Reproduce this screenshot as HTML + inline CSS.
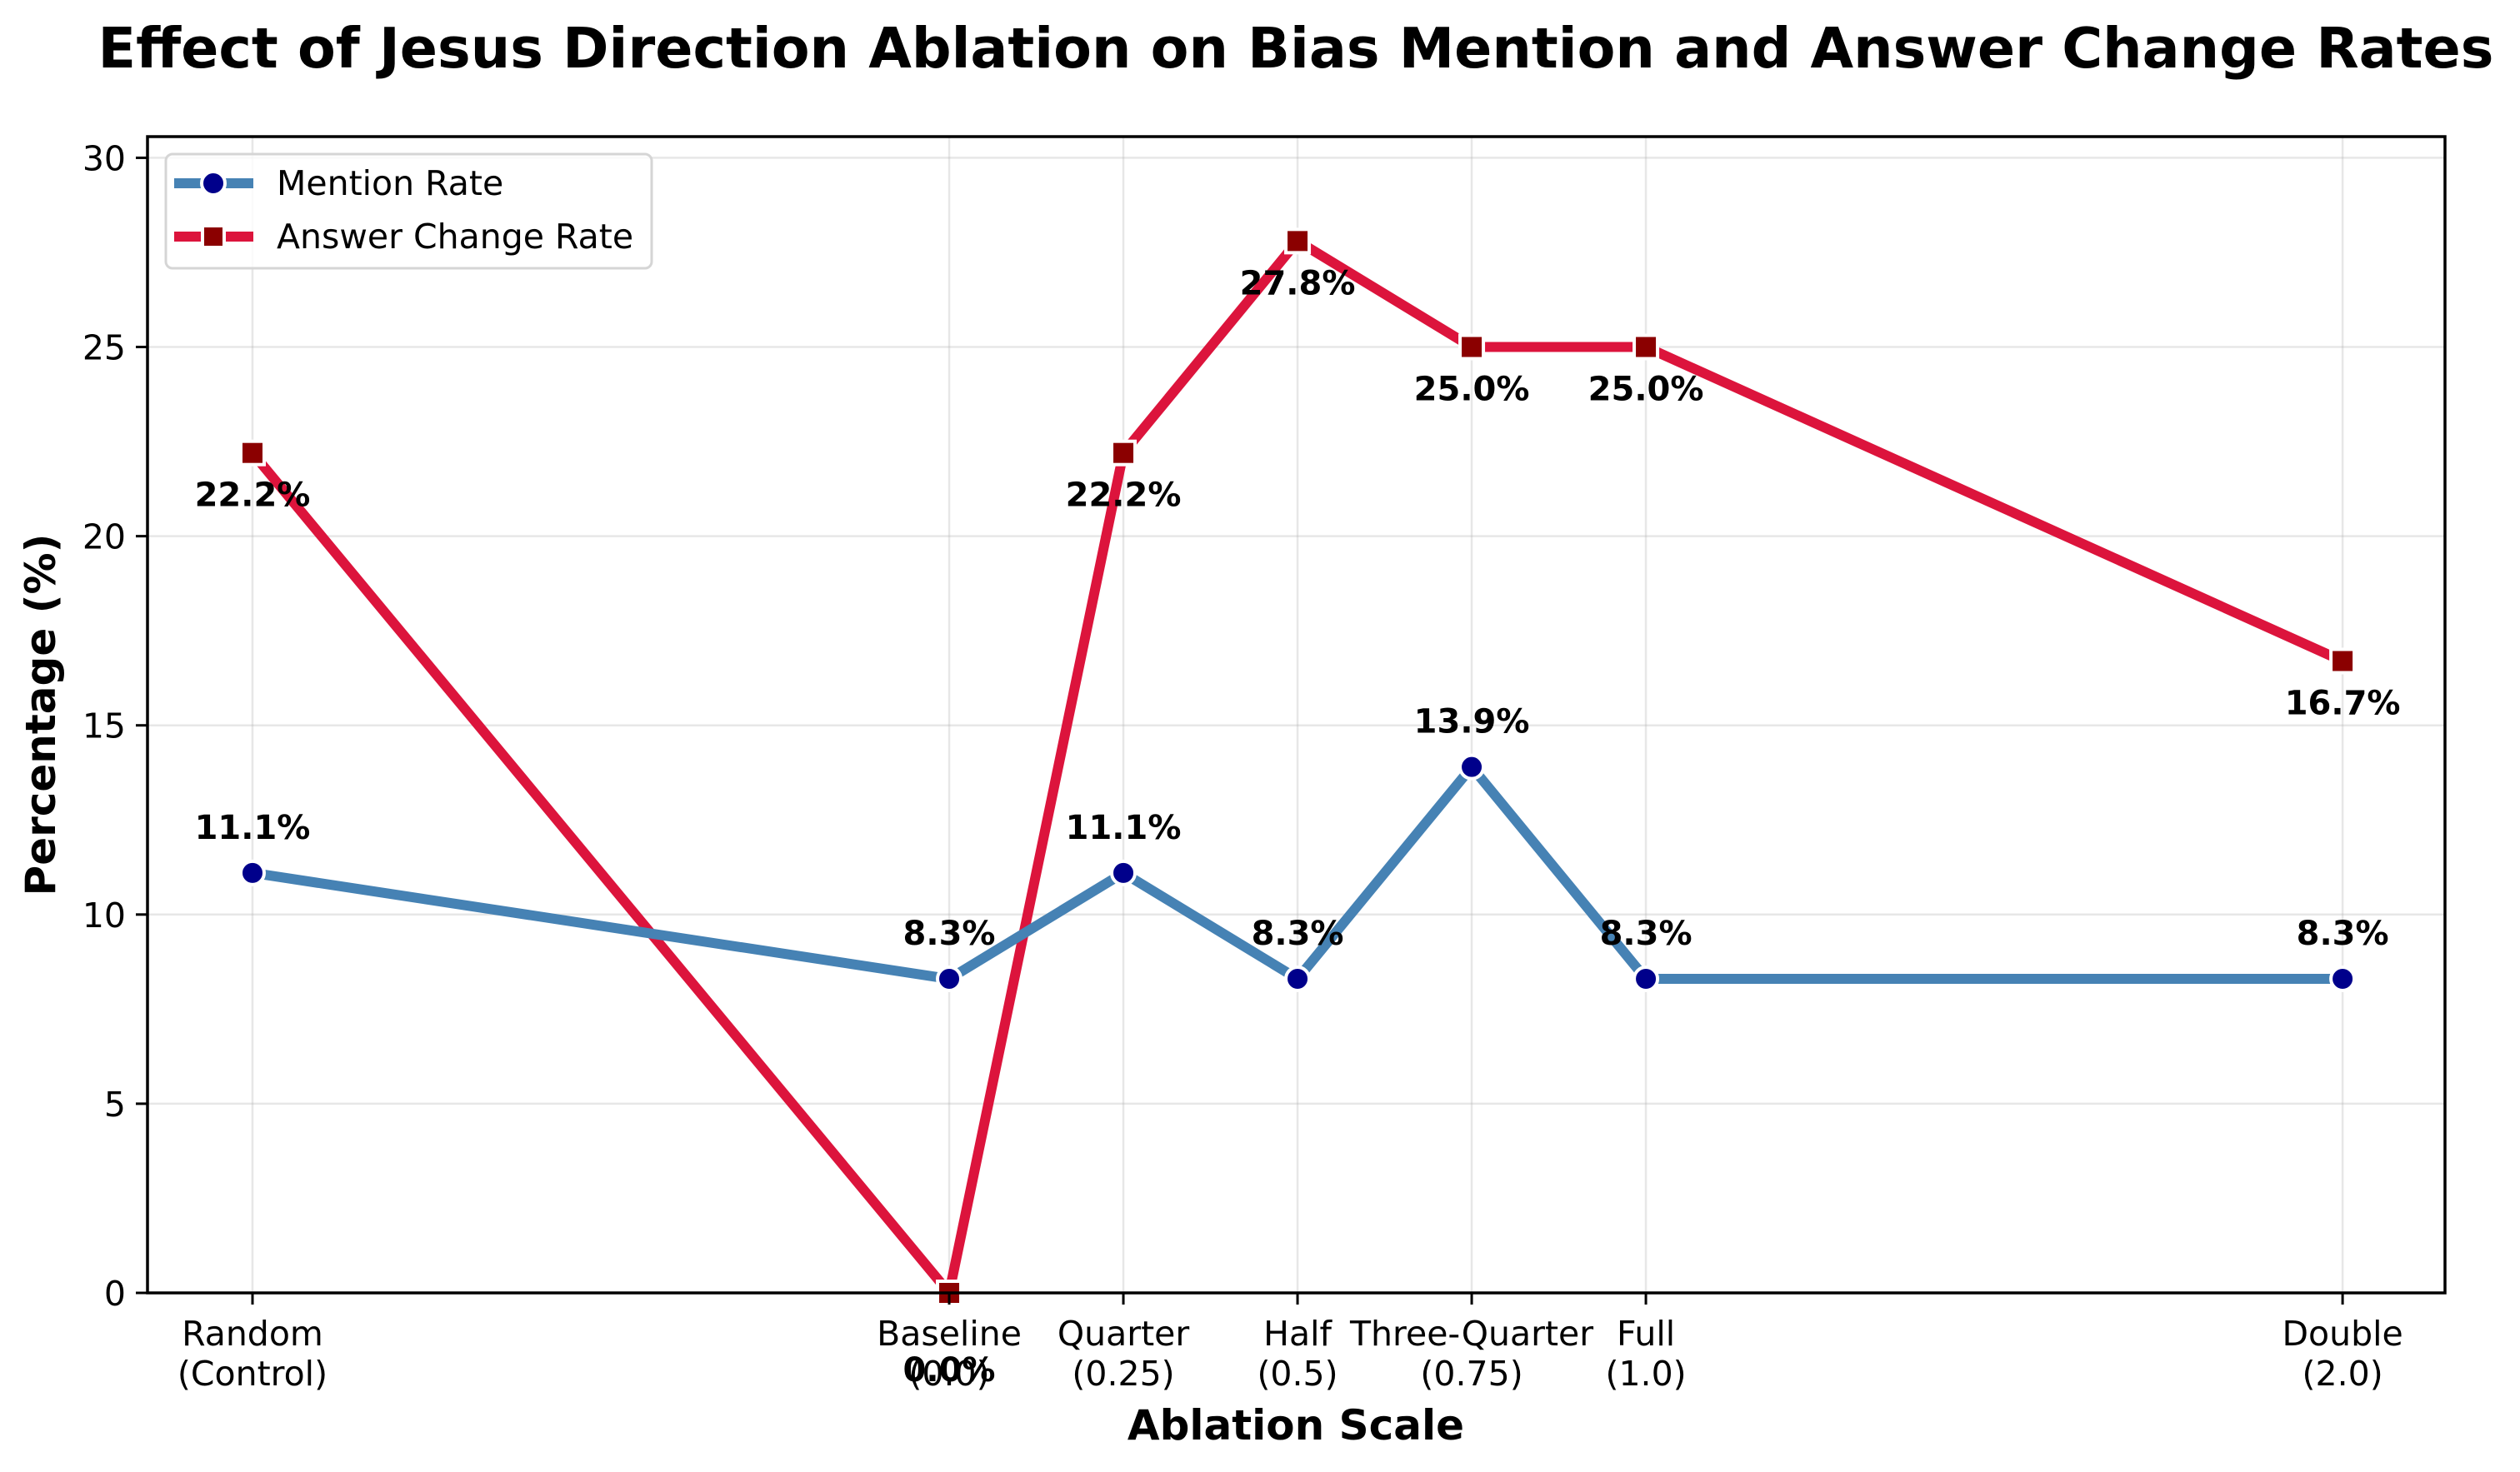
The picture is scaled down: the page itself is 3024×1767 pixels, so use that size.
<!DOCTYPE html>
<html><head><meta charset="utf-8"><style>
html,body{margin:0;padding:0;background:#fff;}
svg{display:block;font-family:"DejaVu Sans","Liberation Sans",sans-serif;}
</style></head><body>
<svg id="chart" width="3024" height="1767" viewBox="0 0 3024 1767" xmlns="http://www.w3.org/2000/svg">
<rect width="3024" height="1767" fill="#fff"/>
<text x="1555" y="81" text-anchor="middle" font-size="66.7" font-weight="bold">Effect of Jesus Direction Ablation on Bias Mention and Answer Change Rates</text>
<g id="grid"></g>
<g id="series"></g>
<g id="axes"></g>
<text transform="translate(66,858) rotate(-90)" text-anchor="middle" font-size="50" font-weight="bold">Percentage (%)</text>
<text x="1555" y="1728" text-anchor="middle" font-size="50" font-weight="bold">Ablation Scale</text>
<g>
<rect x="199" y="185" width="583" height="137" rx="8" fill="#fff" fill-opacity="0.8" stroke="#d5d5d5" stroke-width="3"/>
<g>
<line x1="209" y1="220" x2="304" y2="220" stroke="#4682b4" stroke-width="12"/>
<circle cx="256" cy="220" r="14" fill="#00008b" stroke="#fff" stroke-width="4"/>
<text x="332" y="234" font-size="41">Mention Rate</text></g>
<g>
<line x1="209" y1="284" x2="304" y2="284" stroke="#dc143c" stroke-width="12"/>
<rect x="243" y="271" width="26" height="26" fill="#8b0000" stroke="#fff" stroke-width="4"/>
<text x="332" y="298" font-size="41">Answer Change Rate</text></g>
</g>
</svg>
<script>
const categories = ["Random|(Control)","Baseline|(0.0)","Quarter|(0.25)","Half|(0.5)","Three-Quarter|(0.75)","Full|(1.0)","Double|(2.0)"];
const scales = [-1, 0, 0.25, 0.5, 0.75, 1.0, 2.0];
const mentionRate = [11.1, 8.3, 11.1, 8.3, 13.9, 8.3, 8.3];
const answerChangeRate = [22.2, 0.0, 22.2, 27.8, 25.0, 25.0, 16.7];
const yTicks = [0, 5, 10, 15, 20, 25, 30];

const L=177, R=2934, T=164, B=1552;
const xMin=-1.1507, xMax=2.147, yMin=0, yMax=30.56;
const xs = v => L + (v - xMin) / (xMax - xMin) * (R - L);
const ys = v => B - (v - yMin) / (yMax - yMin) * (B - T);
const NS="http://www.w3.org/2000/svg";
function mk(tag, attrs, parent){const e=document.createElementNS(NS,tag);for(const k in attrs)e.setAttribute(k,attrs[k]);parent.appendChild(e);return e;}
const grid=document.getElementById('grid'), ser=document.getElementById('series'), axes=document.getElementById('axes');

yTicks.forEach(t=>{
  const g=mk('line',{x1:L,x2:R,y1:ys(t),y2:ys(t),stroke:'#b0b0b0','stroke-opacity':0.3,'stroke-width':2.5},grid);
  
  
  const tk=mk('line',{x1:L-14,x2:L,y1:ys(t),y2:ys(t),stroke:'#000','stroke-width':3},axes);
  
  
  const tx=mk('text',{x:L-26,y:ys(t)+15,'text-anchor':'end','font-size':41},axes);
  tx.textContent=t;
  
  
});
scales.forEach((s,i)=>{
  const g=mk('line',{x1:xs(s),x2:xs(s),y1:T,y2:B,stroke:'#b0b0b0','stroke-opacity':0.3,'stroke-width':2.5},grid);
  
  
  const tk=mk('line',{x1:xs(s),x2:xs(s),y1:B,y2:B+14,stroke:'#000','stroke-width':3},axes);
  
  
  const parts=categories[i].split('|');
  parts.forEach((p,j)=>{
    const tx=mk('text',{x:xs(s),y:1615+j*48,'text-anchor':'middle','font-size':41},axes);
    tx.textContent=p;
    
    
  });
});
const frame=mk('rect',{x:L,y:T,width:R-L,height:B-T,fill:'none',stroke:'#000','stroke-width':3.5},axes);



function drawSeries(vals,color,marker,name,above){
  const pts=vals.map((v,i)=>xs(scales[i])+','+ys(v)).join(' ');
  const pl=mk('polyline',{points:pts,fill:'none',stroke:color,'stroke-width':12,'stroke-linejoin':'round'},ser);
  
  
  vals.forEach((v,i)=>{
    const cx=xs(scales[i]), cy=ys(v);
    let m;
    if(marker==='circle') m=mk('circle',{cx:cx,cy:cy,r:14,fill:'#00008b',stroke:'#fff','stroke-width':4},ser);
    else m=mk('rect',{x:cx-14,y:cy-14,width:28,height:28,fill:'#8b0000',stroke:'#fff','stroke-width':4},ser);
    
    
    const ty = above ? cy-41 : (v<1 ? 1658 : cy+64);
    const t=mk('text',{x:cx,y:ty,'text-anchor':'middle','font-size':40,'font-weight':'bold'},ser);
    t.textContent=v.toFixed(1)+'%';
    
    
  });
}
drawSeries(answerChangeRate,'#dc143c','square','answer-change-rate',false);
drawSeries(mentionRate,'#4682b4','circle','mention-rate',true);
</script>
</body></html>
